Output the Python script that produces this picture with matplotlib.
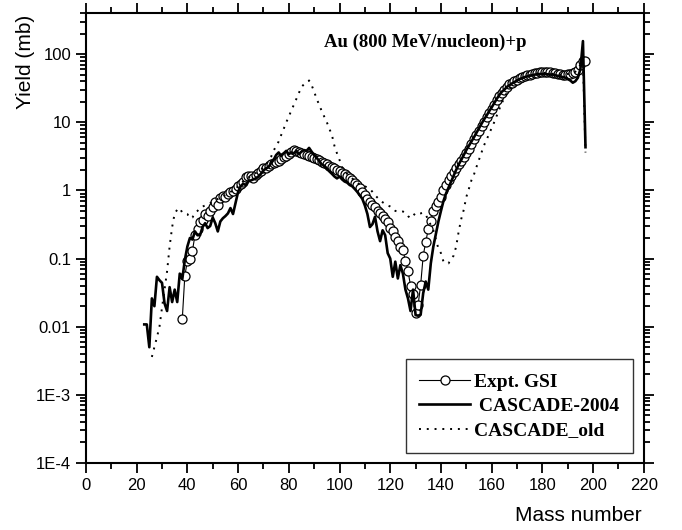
import numpy as np
import matplotlib
matplotlib.use('Agg')
import matplotlib.pyplot as plt
from matplotlib.ticker import MultipleLocator, LogLocator, FixedLocator, NullFormatter

# Expt. GSI, mass numbers 38..197
gsi_A = np.arange(38, 198)
gsi_y = [0.013, 0.056, 0.092, 0.10, 0.13, 0.22, 0.27, 0.34, 0.37, 0.45,
         0.42, 0.50, 0.58, 0.68, 0.62, 0.78, 0.82, 0.80, 0.88, 0.95,
         0.98, 1.05, 1.15, 1.25, 1.35, 1.55, 1.65, 1.60, 1.50, 1.70,
         1.80, 1.95, 2.10, 2.15, 2.30, 2.40, 2.50, 2.60, 2.70, 2.90,
         3.10, 3.20, 3.40, 3.70, 3.85, 3.75, 3.60, 3.50, 3.40, 3.30,
         3.20, 3.10, 3.00, 2.90, 2.75, 2.60, 2.50, 2.40, 2.30, 2.20,
         2.10, 2.00, 1.90, 1.80, 1.75, 1.60, 1.50, 1.40, 1.28, 1.18,
         1.07, 0.95, 0.85, 0.75, 0.68, 0.62, 0.58, 0.50, 0.46, 0.42,
         0.38, 0.34, 0.28, 0.25, 0.21, 0.18, 0.15, 0.135, 0.092, 0.066,
         0.040, 0.030, 0.016, 0.021, 0.041, 0.11, 0.175, 0.27, 0.36, 0.49,
         0.60, 0.68, 0.81, 1.0, 1.2, 1.4, 1.65, 1.85, 2.1, 2.4,
         2.7, 3.1, 3.5, 4.1, 4.8, 5.6, 6.5, 7.5, 8.8, 10.2,
         11.8, 13.5, 15.5, 18, 21, 24, 27, 30, 33, 36,
         38, 40, 42, 44, 45.5, 47, 48.5, 50, 51, 52,
         53, 54, 55, 55, 54.5, 54, 53, 52, 51, 50.5,
         50, 50, 50.5, 51, 52, 54, 58, 68, 78, 80]

# CASCADE-2004, mass numbers 23..197
new_A = np.arange(23, 198)
new_y = [0.0108, 0.0108, 0.005, 0.026, 0.020, 0.054, 0.048, 0.044, 0.022, 0.017,
         0.038, 0.023, 0.035, 0.023, 0.060, 0.050, 0.095, 0.15, 0.20, 0.19,
         0.25, 0.22, 0.22, 0.29, 0.33, 0.28, 0.30, 0.40, 0.33, 0.25,
         0.35, 0.39, 0.42, 0.46, 0.55, 0.45, 0.65, 0.95, 1.15, 1.25,
         1.20, 1.35, 1.40, 1.45, 1.50, 1.60, 1.75, 1.95, 2.10, 2.20,
         2.50, 2.80, 3.30, 3.60, 3.20, 3.50, 3.80, 3.40, 3.60, 3.50,
         3.80, 3.40, 3.70, 3.90, 3.80, 4.20, 3.70, 3.30, 3.00, 2.70,
         2.40, 2.30, 2.10, 1.90, 1.75, 1.60, 1.50, 1.60, 1.45, 1.35,
         1.30, 1.20, 1.15, 1.05, 0.95, 0.85, 0.75, 0.60, 0.45, 0.29,
         0.32, 0.41, 0.25, 0.18, 0.26, 0.22, 0.12, 0.10, 0.054, 0.09,
         0.051, 0.08, 0.06, 0.035, 0.026, 0.017, 0.035, 0.0148, 0.0145, 0.015,
         0.031, 0.046, 0.035, 0.085, 0.15, 0.23, 0.35, 0.50, 0.70, 0.90,
         1.10, 1.35, 1.65, 2.00, 2.40, 2.80, 3.30, 3.90, 4.50, 5.20,
         6.00, 7.00, 8.20, 9.50, 11.0, 12.5, 14.5, 16.5, 19, 22,
         25, 28, 30, 33, 35, 37, 39, 41, 43, 44.5,
         46, 47, 48, 49, 50, 50.5, 51, 51, 51, 50.5,
         50, 50, 49, 48, 47, 46, 45, 43, 41, 38,
         40, 45, 60, 155, 4.3]

# CASCADE_old, mass numbers 26..197
old_A = np.arange(26, 198)
old_y = [0.0036, 0.005, 0.007, 0.010, 0.019, 0.035, 0.065, 0.15, 0.29, 0.46,
         0.52, 0.55, 0.47, 0.46, 0.45, 0.39, 0.40, 0.47, 0.50, 0.55,
         0.58, 0.60, 0.62, 0.65, 0.68, 0.72, 0.75, 0.78, 0.82, 0.85,
         0.90, 0.95, 1.00, 1.05, 1.15, 1.25, 1.35, 1.45, 1.55, 1.60,
         1.70, 1.80, 1.90, 2.00, 2.20, 2.40, 2.70, 3.10, 3.80, 4.50,
         5.20, 6.50, 8.00, 10.0, 12.0, 15.0, 18.0, 22.0, 27.0, 33.0,
         36.0, 38.0, 41.0, 35.0, 28.0, 22.0, 18.0, 14.5, 12.0, 10.0,
         8.0, 6.5, 4.5, 3.5, 2.8, 2.2, 1.9, 1.75, 1.60, 1.50,
         1.40, 1.30, 1.22, 1.18, 1.15, 1.10, 1.05, 0.95, 0.85, 0.78,
         0.72, 0.67, 0.63, 0.60, 0.58, 0.55, 0.50, 0.49, 0.48, 0.49,
         0.47, 0.42, 0.39, 0.42, 0.47, 0.46, 0.46, 0.47, 0.44, 0.37,
         0.31, 0.26, 0.19, 0.14, 0.12, 0.09, 0.085, 0.085, 0.10, 0.11,
         0.15, 0.25, 0.38, 0.52, 0.80, 1.05, 1.40, 1.70, 2.20, 2.80,
         3.60, 4.60, 5.50, 6.80, 8.20, 10.0, 12.5, 15.5, 19.0, 23.0,
         27.0, 31.0, 35.0, 38.0, 40.0, 42.0, 44.0, 46.0, 47.5, 49.0,
         50.0, 51.0, 52.0, 52.5, 53.0, 53.0, 52.5, 52.0, 51.5, 51.0,
         50.5, 50.0, 50.0, 50.5, 51.0, 52.0, 53.0, 55.0, 60.0, 70.0,
         85.0, 3.6]

ytick_vals = [1e-4, 1e-3, 1e-2, 1e-1, 1, 10, 100]
ytick_labels = ['1E-4', '1E-3', '0.01', '0.1', '1', '10', '100']

plt.rcParams['font.family'] = ['Liberation Sans', 'DejaVu Sans']
serif_bold = dict(family='Liberation Serif', weight='bold')

fig = plt.figure(figsize=(6.82, 5.30), dpi=100)
ax = fig.add_axes([0.126, 0.1264, 0.818, 0.849])

ax.plot(gsi_A, gsi_y, '-o', color='black', lw=0.8, ms=6.5, mfc='white',
        mec='black', mew=0.9, label='Expt. GSI', zorder=2)
ax.plot(new_A, new_y, '-', color='black', lw=1.9, label=' CASCADE-2004', zorder=3)
ax.plot(old_A, old_y, color='black', lw=1.4, ls=(0, (1, 3)),
        label='CASCADE_old', zorder=3)

ax.set_yscale('log')
ax.set_xlim(0, 220)
ax.set_ylim(1e-4, 400)

ax.xaxis.set_major_locator(MultipleLocator(20))
ax.xaxis.set_minor_locator(MultipleLocator(10))
ax.yaxis.set_major_locator(FixedLocator(ytick_vals))
ax.set_yticklabels(ytick_labels)
ax.yaxis.set_minor_locator(LogLocator(base=10, subs=np.arange(2, 10)))
ax.yaxis.set_minor_formatter(NullFormatter())

ax.tick_params(which='both', direction='out', top=True, right=True,
               width=1.3, labelsize=12, colors='black')
ax.tick_params(which='major', length=7.2)
ax.tick_params(which='minor', length=4)
for s in ax.spines.values():
    s.set_linewidth(1.5)

# axis titles sit at the top-left and bottom-right corners
fig.text(0.0367, 0.883, 'Yield (mb)', fontsize=15, rotation=90,
         ha='center', va='center')
fig.text(0.941, 0.028, 'Mass number', fontsize=15, ha='right', va='center')

ax.text(133.9, 150, 'Au (800 MeV/nucleon)+p', fontsize=13.5, ha='center',
        va='center', **serif_bold)

leg = ax.legend(loc='lower right', bbox_to_anchor=(0.98, 0.022),
                prop=dict(family='Liberation Serif', weight='bold', size=14),
                frameon=True, fancybox=False, edgecolor='black',
                handlelength=2.6, borderpad=0.7, labelspacing=0.35,
                handletextpad=0.2, borderaxespad=0)
leg.get_frame().set_linewidth(1.0)

fig.savefig('out.png', dpi=100)
